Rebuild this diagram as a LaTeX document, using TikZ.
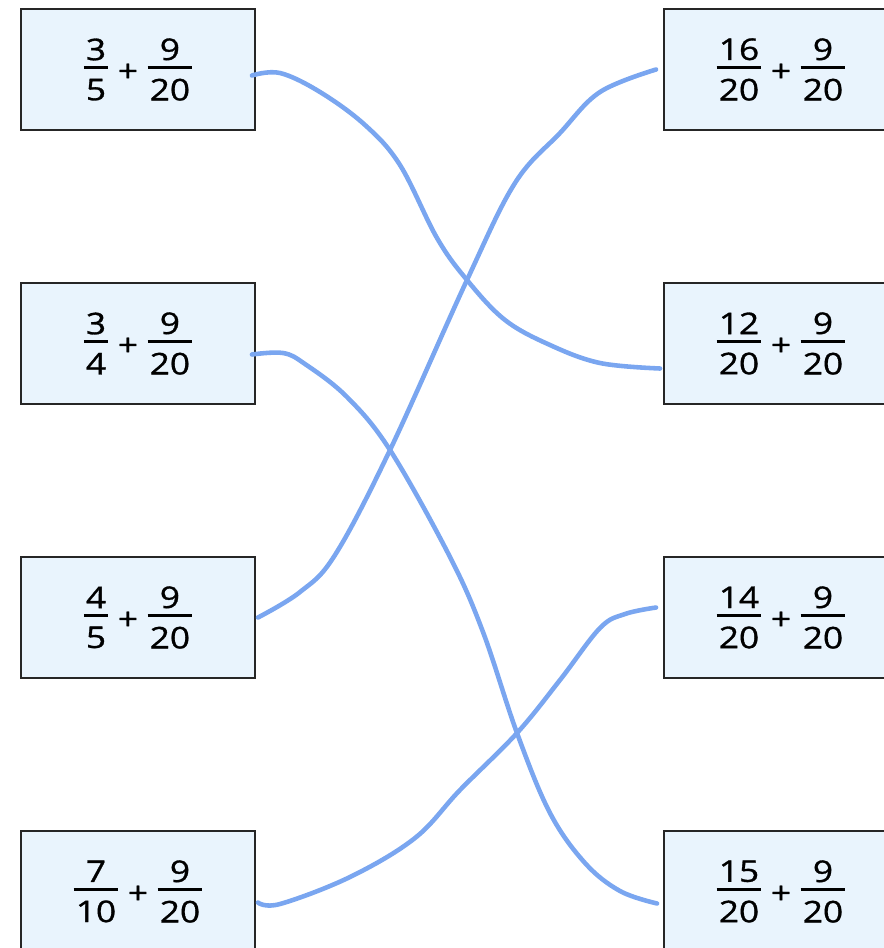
\documentclass[tikz,border=0pt]{standalone}
\usepackage{amsmath}
\usepackage{fontspec}
\setmainfont{Open Sans}
\newfontfamily\cardfont{Open Sans}[FakeStretch=1.18, FakeBold=1]
\usepackage{tikz}
\usetikzlibrary{calc}

\definecolor{boxfill}{RGB}{233,244,253}
\definecolor{boxline}{RGB}{38,38,38}
\definecolor{linkblue}{RGB}{122,166,240}

% stacked fraction with a thick bar
\newcommand{\fr}[2]{\vcenter{\offinterlineskip
  \halign{\hfil\kern1.2pt##\kern1.2pt\hfil\cr
    #1\cr\noalign{\kern3.2pt\hrule height1.7pt\kern5.6pt}
    #2\cr}}}
\newcommand{\sumbox}[2]{$\fr{#1}{#2}\hspace{5.5pt}\raisebox{-2.5pt}{+}\hspace{5.5pt}\fr{9}{20}$}

\begin{document}
\begin{tikzpicture}[x=0.02cm, y=-0.02cm,
  card/.style={draw=boxline, line width=1.1pt, fill=boxfill,
               minimum width=4.68cm, minimum height=2.42cm, inner sep=0pt,
               font=\cardfont\fontsize{17}{20}\selectfont},
  link/.style={draw=linkblue, line width=2.6pt, line cap=round, line join=round}]
\clip (0,0) rectangle (884,948);
% left column
\node[card] (l1) at (138,69.5) {\sumbox{3}{5}};
\node[card] (l2) at (138,343.5) {\sumbox{3}{4}};
\node[card] (l3) at (138,617.5) {\sumbox{4}{5}};
\node[card] (l4) at (138,891.5) {\sumbox{7}{10}};
% right column
\node[card] (r1) at (781,69.5) {\sumbox{16}{20}};
\node[card] (r2) at (781,343.5) {\sumbox{12}{20}};
\node[card] (r3) at (781,617.5) {\sumbox{14}{20}};
\node[card] (r4) at (781,891.5) {\sumbox{15}{20}};
% hand drawn matches
\draw[link] plot[smooth, tension=0.6] coordinates {($(l1.east)+(-4,6)$) (280,73)
  (320,92) (365,125) (400,165) (437,238) (467,280) (505,320) (550,345)
  (600,363) ($(r2.west)+(-3,25)$)};
\draw[link] plot[smooth, tension=0.6] coordinates {($(l2.east)+(-4,11)$) (283,353)
  (305,364) (347,397) (390,450) (450,557) (483,632) (517,733) (550,813)
  (585,863) (620,891) ($(r4.west)+(-6,12)$)};
\draw[link] plot[smooth, tension=0.6] coordinates {($(l3.east)+(2,0)$) (300,592)
  (335,555) (390,450) (467,280) (515,183) (560,133) (600,92)
  ($(r1.west)+(-7,0)$)};
\draw[link] plot[smooth, tension=0.6] coordinates {($(l4.east)+(2,11)$) (280,904)
  (350,877) (415,838) (460,790) (517,733) (560,680) (600,628) (625,614)
  ($(r3.west)+(-7,-10)$)};
\end{tikzpicture}
\end{document}
